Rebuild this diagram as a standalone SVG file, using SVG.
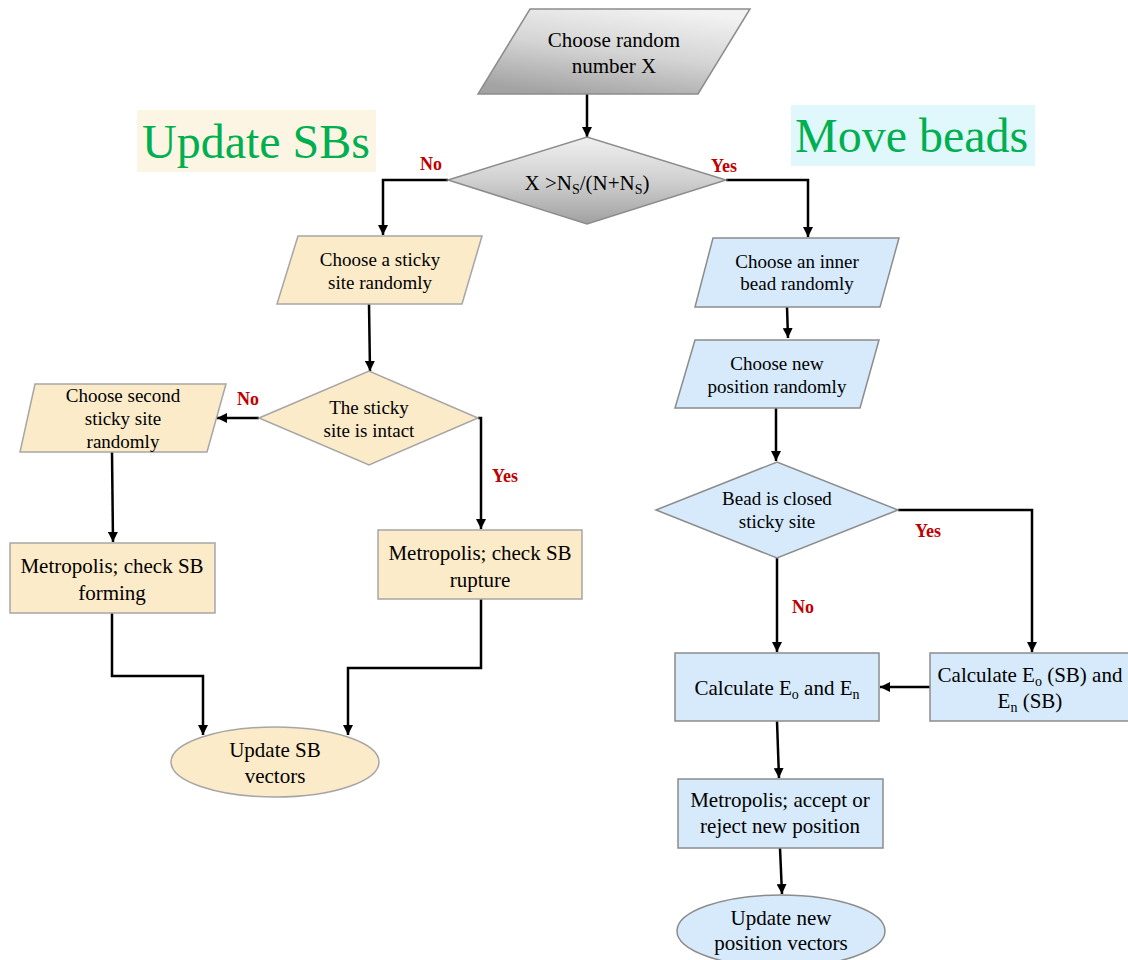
<svg xmlns="http://www.w3.org/2000/svg" width="1128" height="960" viewBox="0 0 1128 960">
<style>
  .t { fill: #000; text-anchor: middle; }
  .s19 { font-size: 19px; }
  .s21 { font-size: 21px; }
  .lab { font-weight: bold; font-size: 18px; fill: #c00000; }
  .title { font-size: 48px; fill: #00b050; }
  .beige { fill: #fcebc9; stroke: #a6a6a6; stroke-width: 1.5; }
  .blue { fill: #d6eafb; stroke: #8c8c8c; stroke-width: 1.5; }
  .gray { stroke: #8c8c8c; stroke-width: 1.5; }
  .conn { fill: none; stroke: #000; stroke-width: 2.5; marker-end: url(#arrow); }
</style>
<defs>
  <linearGradient id="grayGrad" x1="0.7" y1="0" x2="0.3" y2="1">
    <stop offset="0" stop-color="#f2f2f2"/>
    <stop offset="0.5" stop-color="#d4d4d4"/>
    <stop offset="1" stop-color="#a3a3a3"/>
  </linearGradient>
  <linearGradient id="grayGrad2" x1="0" y1="0" x2="0" y2="1">
    <stop offset="0" stop-color="#f0f0f0"/>
    <stop offset="0.5" stop-color="#d0d0d0"/>
    <stop offset="1" stop-color="#a0a0a0"/>
  </linearGradient>
  <marker id="arrow" viewBox="0 0 10 10" refX="10" refY="5" markerWidth="4" markerHeight="4" orient="auto" markerUnits="strokeWidth">
    <path d="M0,0 L10,5 L0,10 z" fill="#000"/>
  </marker>
</defs>
<rect width="1128" height="960" fill="#ffffff"/>
<g font-family="Liberation Serif, Times New Roman, serif">

<!-- Titles -->
<g id="title-update-sbs">
  <rect x="137" y="110" width="239" height="62" fill="#fdf5e4"/>
  <text class="title" x="142" y="158">Update SBs</text>
</g>
<g id="title-move-beads">
  <rect x="791" y="105" width="244" height="61" fill="#e0f7fc"/>
  <text class="title" x="795" y="152">Move beads</text>
</g>

<!-- Connectors -->
<g id="connectors">
  <path class="conn" d="M587,94 L587,137"/>
  <path class="conn" d="M448,180 L383,180 L383,235"/>
  <path class="conn" d="M726,180 L808,180 L808,237"/>
  <path class="conn" d="M369,304 L370,371"/>
  <path class="conn" d="M259,418 L217,418"/>
  <path class="conn" d="M478,418 L481,418 L481,529"/>
  <path class="conn" d="M112,452 L113,542"/>
  <path class="conn" d="M112,613 L112,676 L203,676 L203,735"/>
  <path class="conn" d="M481,599 L481,668 L348,668 L348,735"/>
  <path class="conn" d="M787,307 L788,338"/>
  <path class="conn" d="M776,408 L776,461"/>
  <path class="conn" d="M777,558 L777,652"/>
  <path class="conn" d="M898,510 L1032,510 L1032,652"/>
  <path class="conn" d="M930,687 L880,687"/>
  <path class="conn" d="M777,721 L779,778"/>
  <path class="conn" d="M780,848 L782,894"/>
  <text class="lab" x="420" y="170">No</text>
  <text class="lab" x="711" y="172">Yes</text>
  <text class="lab" x="237" y="405">No</text>
  <text class="lab" x="492" y="482">Yes</text>
  <text class="lab" x="915" y="537">Yes</text>
  <text class="lab" x="792" y="613">No</text>
</g>

<!-- Nodes -->
<g id="node-choose-random">
  <polygon class="gray" fill="url(#grayGrad)" points="530,9 750,9 698,94 478,94"/>
  <text class="t s21" x="614" y="47">Choose random</text>
  <text class="t s21" x="614" y="73">number X</text>
</g>
<g id="node-decision-x">
  <polygon class="gray" fill="url(#grayGrad2)" points="448,180 587,137 726,180 587,224"/>
  <text class="t s21" x="587" y="190">X &gt;N<tspan font-size="14" dy="4">S</tspan><tspan dy="-4">/(N+N</tspan><tspan font-size="14" dy="4">S</tspan><tspan dy="-4">)</tspan></text>
</g>
<g id="node-choose-sticky">
  <polygon class="beige" points="298,236 482,236 462,304 277,304"/>
  <text class="t s19" x="380" y="266">Choose a sticky</text>
  <text class="t s19" x="380" y="289">site randomly</text>
</g>
<g id="node-sticky-intact">
  <polygon class="beige" points="259,418 369,371 478,418 369,465"/>
  <text class="t s19" x="369" y="414">The sticky</text>
  <text class="t s19" x="369" y="437">site is intact</text>
</g>
<g id="node-choose-second">
  <polygon class="beige" points="35,384 226,384 207,452 20,452"/>
  <text class="t s19" x="123" y="402">Choose second</text>
  <text class="t s19" x="123" y="425">sticky site</text>
  <text class="t s19" x="123" y="448">randomly</text>
</g>
<g id="node-metropolis-forming">
  <rect class="beige" x="10" y="543" width="205" height="70"/>
  <text class="t s21" x="112" y="573">Metropolis; check SB</text>
  <text class="t s21" x="112" y="600">forming</text>
</g>
<g id="node-metropolis-rupture">
  <rect class="beige" x="378" y="530" width="204" height="69"/>
  <text class="t s21" x="480" y="560">Metropolis; check SB</text>
  <text class="t s21" x="480" y="587">rupture</text>
</g>
<g id="node-update-sb">
  <ellipse class="beige" cx="275" cy="762" rx="104" ry="35"/>
  <text class="t s21" x="275" y="757">Update SB</text>
  <text class="t s21" x="275" y="783">vectors</text>
</g>
<g id="node-choose-inner">
  <polygon class="blue" points="713,238 899,238 880,307 695,307"/>
  <text class="t s19" x="797" y="268">Choose an inner</text>
  <text class="t s19" x="797" y="290">bead randomly</text>
</g>
<g id="node-choose-position">
  <polygon class="blue" points="695,340 879,340 860,408 675,408"/>
  <text class="t s19" x="777" y="370">Choose new</text>
  <text class="t s19" x="777" y="393">position randomly</text>
</g>
<g id="node-bead-closed">
  <polygon class="blue" points="656,510 777,462 898,510 777,558"/>
  <text class="t s19" x="777" y="505">Bead is closed</text>
  <text class="t s19" x="777" y="528">sticky site</text>
</g>
<g id="node-calc-eo-en">
  <rect class="blue" x="675" y="653" width="204" height="68"/>
  <text class="t s21" x="777" y="695">Calculate E<tspan font-size="14" dy="4">o</tspan><tspan dy="-4"> and E</tspan><tspan font-size="14" dy="4">n</tspan></text>
</g>
<g id="node-calc-sb">
  <rect class="blue" x="930" y="653" width="205" height="68"/>
  <text class="t s21" x="1030" y="682">Calculate E<tspan font-size="14" dy="4">o</tspan><tspan dy="-4"> (SB) and</tspan></text>
  <text class="t s21" x="1030" y="708">E<tspan font-size="14" dy="4">n</tspan><tspan dy="-4"> (SB)</tspan></text>
</g>
<g id="node-metropolis-accept">
  <rect class="blue" x="678" y="779" width="205" height="69"/>
  <text class="t s21" x="780" y="807">Metropolis; accept or</text>
  <text class="t s21" x="780" y="833">reject new position</text>
</g>
<g id="node-update-position">
  <ellipse class="blue" cx="781" cy="931" rx="104" ry="36"/>
  <text class="t s21" x="781" y="925">Update new</text>
  <text class="t s21" x="781" y="950">position vectors</text>
</g>
</g>
</svg>
